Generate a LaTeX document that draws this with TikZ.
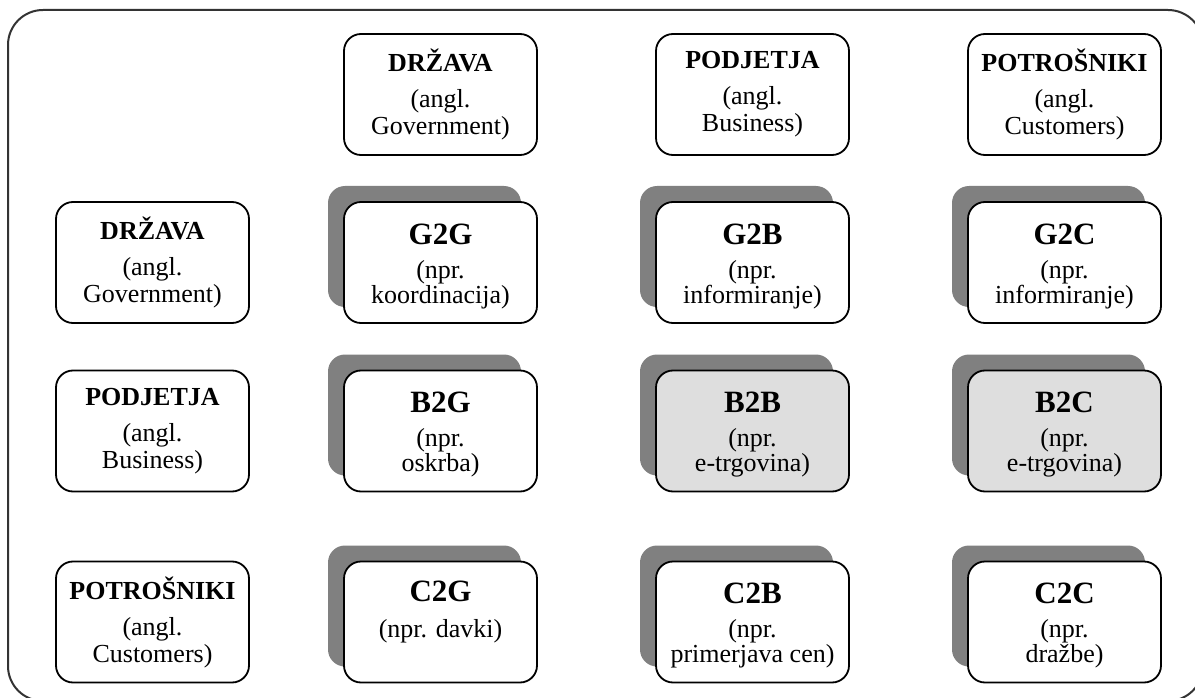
\documentclass[tikz,border=0pt]{standalone}
\usepackage{fontspec}
\setmainfont{Liberation Serif}
\usetikzlibrary{shadows}
\begin{document}
\begin{tikzpicture}[x=1pt,y=-1pt,
  box/.style={draw=black, line width=1.8pt, rounded corners=17pt, fill=white,
    minimum width=193pt, minimum height=121pt, inner sep=0pt, align=center,
    font=\fontsize{26}{27}\selectfont},
  cell/.style={box, font=\fontsize{26}{25}\selectfont,
    general shadow={fill=black!50, shadow xshift=-16pt, shadow yshift=16pt}},
  hot/.style={fill=black!13},
  frame/.style={draw=black!80, line width=2pt, rounded corners=35pt},
]
\useasboundingbox (0,0) rectangle (1195,698);
\clip (0,0) rectangle (1195,698);

% outer frame
\draw[frame] (8,10) rectangle (1203,701);

% column headers
\node[box] (hg) at (440.5,94.5) {\textbf{DRŽAVA}\\[9pt](angl.\\Government)};
\node[box] (hb) at (752.5,94.5) {\textbf{PODJETJA}\\[9pt](angl.\\Business)};
\node[box] (hc) at (1064.5,94.5) {\textbf{POTROŠNIKI}\\[9pt](angl.\\Customers)};

% row headers
\node[box] (rg) at (152.5,262.5) {\textbf{DRŽAVA}\\[9pt](angl.\\Government)};
\node[box] (rb) at (152.5,431) {\textbf{PODJETJA}\\[9pt](angl.\\Business)};
\node[box] (rc) at (152.5,622) {\textbf{POTROŠNIKI}\\[9pt](angl.\\Customers)};

% interaction cells; the rule adds headroom so the text sits a little lower
\newcommand{\celltitle}[1]{{\fontsize{31}{25}\selectfont\bfseries\rule{0pt}{28pt}#1}}
\node[cell] (gg) at (440.5,262.5) {\celltitle{G2G}\\[9pt](npr.\\koordinacija)};
\node[cell] (gb) at (752.5,262.5) {\celltitle{G2B}\\[9pt](npr.\\informiranje)};
\node[cell] (gc) at (1064.5,262.5) {\celltitle{G2C}\\[9pt](npr.\\informiranje)};

\node[cell] (bg) at (440.5,431) {\celltitle{B2G}\\[9pt](npr.\\oskrba)};
\node[cell,hot] (bb) at (752.5,431) {\celltitle{B2B}\\[9pt](npr.\\e-trgovina)};
\node[cell,hot] (bc) at (1064.5,431) {\celltitle{B2C}\\[9pt](npr.\\e-trgovina)};

\node[cell] (cg) at (440.5,622) {\celltitle{C2G}\\[11pt](npr. davki)\\\strut};
\node[cell] (cb) at (752.5,622) {\celltitle{C2B}\\[9pt](npr.\\primerjava cen)};
\node[cell] (cc) at (1064.5,622) {\celltitle{C2C}\\[9pt](npr.\\dražbe)};
\end{tikzpicture}
\end{document}
